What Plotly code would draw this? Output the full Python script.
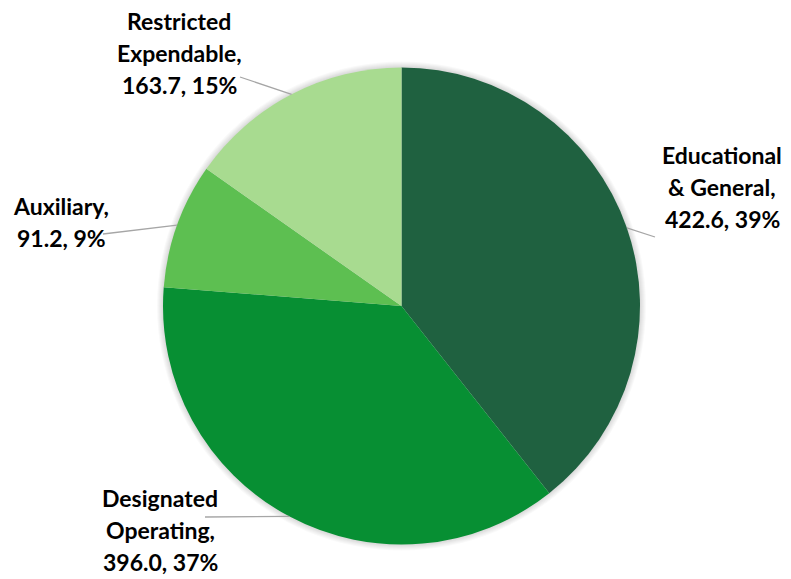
import math
import plotly.graph_objects as go

# ---- data ----
categories = ["Educational\n& General", "Designated\nOperating", "Auxiliary", "Restricted\nExpendable"]
values = [422.6, 396.0, 91.2, 163.7]
percents = [39, 37, 9, 15]
colors = ["#1F6140", "#078F33", "#5DBF51", "#A8DB90"]

# ---- layout constants (pixels in the page) ----
W, H = 791, 579
OFF = 8  # page body margin
CX, CY, R = 401.5, 306.0, 238.5
# label anchor (center x, first line y) and leader line end points
label_pos = [(722, 155), (160, 498), (61, 206), (179, 21)]
leader_end = [(655, 237), (205, 517), (103, 234), (240, 77)]
LINE_STEP = 32

def px(x):
    return (x - OFF) / W

def py(y):
    return 1 - (y - OFF) / H

fig = go.Figure()
fig.add_trace(go.Pie(
    labels=[c.replace("\n", " ") for c in categories],
    values=values,
    sort=False,
    direction="clockwise",
    rotation=0,
    textinfo="none",
    hoverinfo="label+value+percent",
    marker=dict(colors=colors, line=dict(width=0)),
    domain=dict(x=[px(CX - R), px(CX + R)], y=[py(CY + R), py(CY - R)]),
    showlegend=False,
))

shapes = []
# soft glow/shadow around the pie
for d in range(1, 7):
    rr = R + d
    shapes.append(dict(type="circle", xref="paper", yref="paper",
                       x0=px(CX - rr), x1=px(CX + rr), y0=py(CY + rr), y1=py(CY - rr),
                       fillcolor="rgba(0,0,0,0.025)", line=dict(width=0), layer="below"))

total = sum(values)
cum = 0.0
annotations = []
for i, (cat, v) in enumerate(zip(categories, values)):
    frac = v / total
    mid = (cum + frac / 2) * 2 * math.pi
    cum += frac
    ex = CX + R * math.sin(mid)
    ey = CY - R * math.cos(mid)
    lx, ly = leader_end[i]
    shapes.append(dict(type="line", xref="paper", yref="paper",
                       x0=px(ex), y0=py(ey), x1=px(lx), y1=py(ly),
                       line=dict(color="#A6A6A6", width=1.3), layer="above"))
    lines = cat.split("\n")
    lines[-1] = lines[-1] + ","
    lines.append(f"{v:.1f}, {percents[i]}%")
    cx, cy0 = label_pos[i]
    for k, t in enumerate(lines):
        annotations.append(dict(
            x=px(cx), y=py(cy0 + k * LINE_STEP), xref="paper", yref="paper",
            text=t, showarrow=False, xanchor="center", yanchor="middle",
            font=dict(family="Lato", size=23, color="#000000", weight="bold"),
        ))

fig.update_layout(
    width=W, height=H,
    margin=dict(l=0, r=0, t=0, b=0),
    paper_bgcolor="white", plot_bgcolor="white",
    shapes=shapes, annotations=annotations,
)

fig.write_html("out.html")
